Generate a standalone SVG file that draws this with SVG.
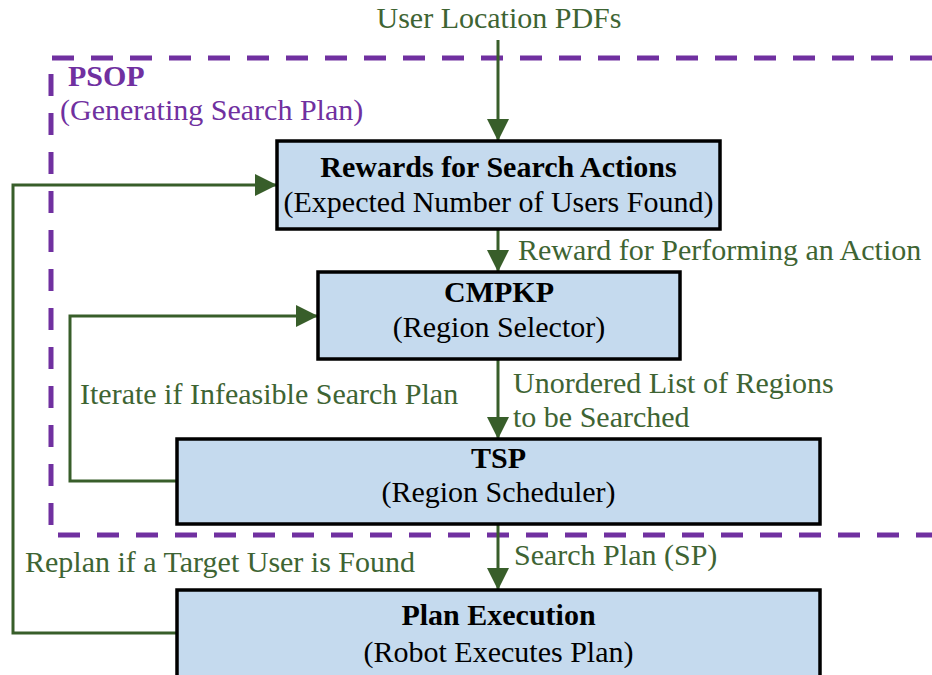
<svg xmlns="http://www.w3.org/2000/svg" width="932" height="675" viewBox="0 0 932 675">
<style>
text{font-family:"Liberation Serif","Times New Roman",serif;font-size:30px}
.b{font-weight:bold;fill:#000}
.n{fill:#000}
.g{fill:#3e6433}
.p{fill:#7030a0}
.box{fill:#c5daee;stroke:#000;stroke-width:3.5}
.c{fill:none;stroke:#385e2a;stroke-width:3}
</style>
<defs>
<marker id="ah" markerWidth="22" markerHeight="22" viewBox="0 0 22 22" refX="22" refY="11" orient="auto" markerUnits="userSpaceOnUse">
<path d="M0,0 L22,11 L0,22 Z" fill="#385e2a"/>
</marker>
</defs>
<rect width="932" height="675" fill="#fff"/>
<g id="psop">
<path d="M932 58 H51 V535 H932" fill="none" stroke="#7030a0" stroke-width="5" stroke-dasharray="22 17"/>
<text class="p b" x="68" y="86" style="fill:#7030a0">PSOP</text>
<text class="p" x="60" y="120">(Generating Search Plan)</text>
</g>
<g id="connectors">
<path class="c" d="M498 40 V141" marker-end="url(#ah)"/>
<path class="c" d="M498 229 V272" marker-end="url(#ah)"/>
<path class="c" d="M498 359 V439" marker-end="url(#ah)"/>
<path class="c" d="M498 524 V590" marker-end="url(#ah)"/>
<path class="c" d="M177 481 H70 V316 H318" marker-end="url(#ah)"/>
<path class="c" d="M177 633 H13 V185 H277" marker-end="url(#ah)"/>
<text class="g" x="499" y="28" text-anchor="middle">User Location PDFs</text>
<text class="g" x="518" y="260">Reward for Performing an Action</text>
<text class="g" x="513" y="393">Unordered List of Regions</text>
<text class="g" x="513" y="427">to be Searched</text>
<text class="g" x="80" y="404">Iterate if Infeasible Search Plan</text>
<text class="g" x="25" y="572">Replan if a Target User is Found</text>
<text class="g" x="514" y="565">Search Plan (SP)</text>
</g>
<g id="rewards">
<rect class="box" x="277" y="141" width="443" height="88"/>
<text class="b" x="498.5" y="177" text-anchor="middle">Rewards for Search Actions</text>
<text class="n" x="498.5" y="212" text-anchor="middle">(Expected Number of Users Found)</text>
</g>
<g id="cmpkp">
<rect class="box" x="318" y="272" width="362" height="87"/>
<text class="b" x="499" y="302" text-anchor="middle">CMPKP</text>
<text class="n" x="499" y="337" text-anchor="middle">(Region Selector)</text>
</g>
<g id="tsp">
<rect class="box" x="177" y="439" width="643" height="85"/>
<text class="b" x="498.5" y="468" text-anchor="middle">TSP</text>
<text class="n" x="498.5" y="502" text-anchor="middle">(Region Scheduler)</text>
</g>
<g id="exec">
<rect class="box" x="177" y="590" width="643" height="100"/>
<text class="b" x="498.5" y="625" text-anchor="middle">Plan Execution</text>
<text class="n" x="498.5" y="662" text-anchor="middle">(Robot Executes Plan)</text>
</g>
</svg>
